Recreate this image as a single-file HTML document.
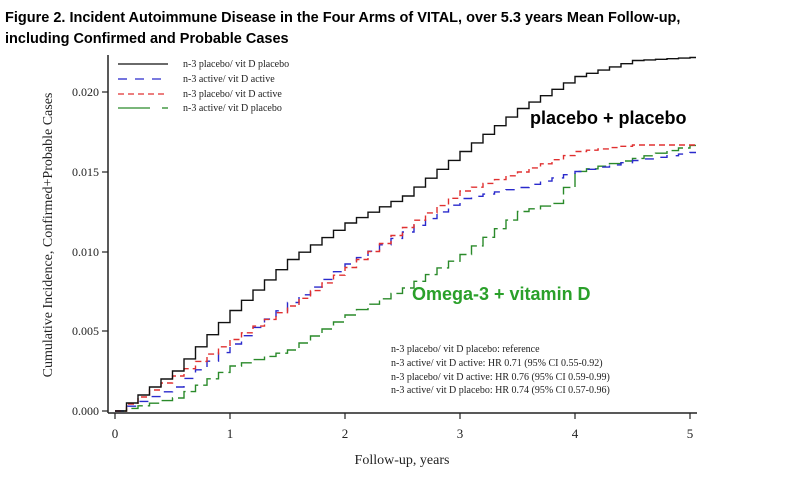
<!DOCTYPE html><html><head><meta charset="utf-8"><style>
body{margin:0;background:#fff;width:797px;height:473px;overflow:hidden;font-family:"Liberation Sans",sans-serif}
</style></head><body>
<svg width="797" height="473" xmlns="http://www.w3.org/2000/svg">
<text x="5" y="22" font-family="Liberation Sans" font-weight="bold" font-size="14.5">Figure 2. Incident Autoimmune Disease in the Four Arms of VITAL, over 5.3 years Mean Follow-up,</text>
<text x="5" y="43" font-family="Liberation Sans" font-weight="bold" font-size="14.5">including Confirmed and Probable Cases</text>
<g font-family="Liberation Serif" font-size="12" fill="#222">
<line x1="108" y1="55" x2="108" y2="413" stroke="#222" stroke-width="1.5"/>
<line x1="108" y1="413" x2="697" y2="413" stroke="#222" stroke-width="1.5"/>
<g stroke="#222" stroke-width="1.2">
<line x1="102" y1="411" x2="108" y2="411"/><line x1="102" y1="331" x2="108" y2="331"/><line x1="102" y1="252" x2="108" y2="252"/><line x1="102" y1="172" x2="108" y2="172"/><line x1="102" y1="92" x2="108" y2="92"/>
<line x1="115" y1="413" x2="115" y2="419"/><line x1="230" y1="413" x2="230" y2="419"/><line x1="345" y1="413" x2="345" y2="419"/><line x1="460" y1="413" x2="460" y2="419"/><line x1="575" y1="413" x2="575" y2="419"/><line x1="690" y1="413" x2="690" y2="419"/>
</g>
<g text-anchor="end"><text x="99" y="415">0.000</text><text x="99" y="335">0.005</text><text x="99" y="256">0.010</text><text x="99" y="176">0.015</text><text x="99" y="96">0.020</text></g>
<g text-anchor="middle" font-size="13"><text x="115" y="438">0</text><text x="230" y="438">1</text><text x="345" y="438">2</text><text x="460" y="438">3</text><text x="575" y="438">4</text><text x="690" y="438">5</text></g>
<text x="402" y="464" text-anchor="middle" font-size="14">Follow-up, years</text>
<text transform="translate(52,235) rotate(-90)" text-anchor="middle" font-size="14">Cumulative Incidence, Confirmed+Probable Cases</text>
<g font-size="10">
<line x1="118" y1="64" x2="168" y2="64" stroke="#111" stroke-width="1.3"/><text x="183" y="67">n-3 placebo/ vit D placebo</text>
<line x1="118" y1="79" x2="168" y2="79" stroke="#2a2acc" stroke-width="1.3" stroke-dasharray="9,8"/><text x="183" y="82">n-3 active/ vit D active</text>
<line x1="118" y1="94" x2="168" y2="94" stroke="#e03030" stroke-width="1.3" stroke-dasharray="6,4"/><text x="183" y="97">n-3 placebo/ vit D active</text>
<line x1="118" y1="108" x2="150" y2="108" stroke="#2a8a2a" stroke-width="1.3"/><line x1="162" y1="108" x2="168" y2="108" stroke="#2a8a2a" stroke-width="1.3"/><text x="183" y="111">n-3 active/ vit D placebo</text>
<text x="391" y="352">n-3 placebo/ vit D placebo: reference</text>
<text x="391" y="366">n-3 active/ vit D active: HR 0.71 (95% CI 0.55-0.92)</text>
<text x="391" y="380">n-3 placebo/ vit D active: HR 0.76 (95% CI  0.59-0.99)</text>
<text x="391" y="393">n-3 active/ vit D placebo: HR 0.74 (95% CI 0.57-0.96)</text>
</g></g>
<g fill="none" stroke-width="1.4">
<path stroke="#2a8a2a" stroke-dasharray="14,5" d="M115,411 h11.5v-2.6h11.5v-2.6h11.5v-2.6h11.5v-2.6h11.5v-2.6 h11.5v-6.4h11.5v-6.4h11.5v-6.4h11.5v-6.4h11.5v-6.4 h11.5v-3.2h11.5v-3.2h11.5v-3.2h11.5v-3.2h11.5v-3.2 h11.5v-7h11.5v-7h11.5v-7h11.5v-7h11.5v-7 h11.5v-5.4h11.5v-5.4h11.5v-5.4h11.5v-5.4h11.5v-5.4 h11.5v-6.7h11.5v-6.7h11.5v-6.7h11.5v-6.7h11.5v-6.7 h11.5v-8.6h11.5v-8.6h11.5v-8.6h11.5v-8.6h11.5v-8.6 h11.5v-2.7h11.5v-2.7h11.5v-2.7 h11.5v-16h11.5v-16 h11.5v-2.6h11.5v-2.6h11.5v-2.6h11.5v-2.6h11.5v-2.6 h11.5v-2.6h11.5v-2.6h11.5v-2.6h11.5v-2.6h11.5v-2.6h6"/>
<path stroke="#2a2acc" stroke-dasharray="9,8" d="M115,411 h11.5v-4.8h11.5v-4.8h11.5v-4.8h11.5v-4.8h11.5v-4.8 h11.5v-8.6h11.5v-8.6h11.5v-8.6h11.5v-8.6h11.5v-8.6 h11.5v-8.3h11.5v-8.3h11.5v-8.3h11.5v-8.3h11.5v-8.3 h11.5v-7.7h11.5v-7.7h11.5v-7.7h11.5v-7.7h11.5v-7.7 h11.5v-6.4h11.5v-6.4h11.5v-6.4h11.5v-6.4h11.5v-6.4 h11.5v-6.7h11.5v-6.7h11.5v-6.7h11.5v-6.7h11.5v-6.7 h11.5v-2.2h11.5v-2.2h11.5v-2.2h11.5v-2.2h11.5v-2.2 h11.5v-3.2h11.5v-3.2h11.5v-3.2h11.5v-3.2h11.5v-3.2 h11.5v-2.2h11.5v-2.2h11.5v-2.2h11.5v-2.2h11.5v-2.2 h11.5v-1.6h11.5v-1.6h11.5v-1.6h11.5v-1.6h11.5v-1.6h6"/>
<path stroke="#e03030" stroke-dasharray="6,4" d="M115,411 h11.5v-7h11.5v-7h11.5v-7h11.5v-7h11.5v-7 h11.5v-7.3h11.5v-7.3h11.5v-7.3h11.5v-7.3h11.5v-7.3 h11.5v-6.7h11.5v-6.7h11.5v-6.7h11.5v-6.7h11.5v-6.7 h11.5v-7.7h11.5v-7.7h11.5v-7.7h11.5v-7.7h11.5v-7.7 h11.5v-8h11.5v-8h11.5v-8h11.5v-8h11.5v-8 h11.5v-7.3h11.5v-7.3h11.5v-7.3h11.5v-7.3h11.5v-7.3 h11.5v-3.8h11.5v-3.8h11.5v-3.8h11.5v-3.8h11.5v-3.8 h11.5v-4.1h11.5v-4.1h11.5v-4.1h11.5v-4.1h11.5v-4.1 h11.5v-1.3h11.5v-1.3h11.5v-1.3h11.5v-1.3h11.5v-1.3 h63.5"/>
<path stroke="#111" d="M115,411 h11.5v-8h11.5v-8h11.5v-8h11.5v-8h11.5v-8 h11.5v-12.1h11.5v-12.1h11.5v-12.1h11.5v-12.1h11.5v-12.1 h11.5v-10.2h11.5v-10.2h11.5v-10.2h11.5v-10.2h11.5v-10.2 h11.5v-7.3h11.5v-7.3h11.5v-7.3h11.5v-7.3h11.5v-7.3 h11.5v-5.4h11.5v-5.4h11.5v-5.4h11.5v-5.4h11.5v-5.4 h11.5v-8.9h11.5v-8.9h11.5v-8.9h11.5v-8.9h11.5v-8.9 h11.5v-8.6h11.5v-8.6h11.5v-8.6h11.5v-8.6h11.5v-8.6 h11.5v-6.4h11.5v-6.4h11.5v-6.4h11.5v-6.4h11.5v-6.4 h11.5v-3.2h11.5v-3.2h11.5v-3.2h11.5v-3.2h11.5v-3.2 h11.5v-0.6h11.5v-0.6h11.5v-0.6h11.5v-0.6h11.5v-0.6h6"/>
</g>
<text x="530" y="124" font-family="Liberation Sans" font-weight="bold" font-size="18">placebo + placebo</text>
<text x="412" y="300" font-family="Liberation Sans" font-weight="bold" font-size="18" fill="#2aa02a">Omega-3 + vitamin D</text>
</svg></body></html>
